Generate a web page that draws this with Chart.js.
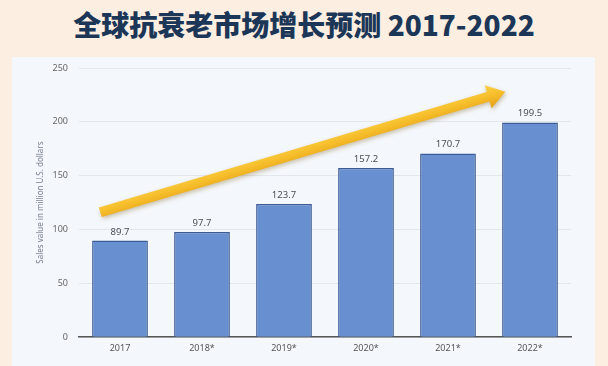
<!DOCTYPE html>
<html>
<head>
<meta charset="utf-8">
<script src="https://cdn.jsdelivr.net/npm/chart.js@4"></script>
<style>
  html, body { margin: 0; padding: 0; }
  body { width: 608px; height: 366px; background: #fcefe1; position: relative; overflow: hidden; font-family: "Noto Sans", sans-serif; }
  #title { position: absolute; left: 0; top: 4px; width: 608px; text-align: center; font: 900 28px "Noto Sans CJK SC", "Noto Sans", sans-serif; color: #1c3658; }
  #panel { position: absolute; left: 12px; top: 57px; width: 583px; height: 309px; background: #f4f7fb; }
  #chart { position: absolute; left: 0; top: 0; }
</style>
</head>
<body>
<div id="title">全球抗衰老市场增长预测 2017-2022</div>
<div id="panel"></div>
<canvas id="chart" width="608" height="366"></canvas>
<script>
const years = ["2017", "2018*", "2019*", "2020*", "2021*", "2022*"];
const sales = [89.7, 97.7, 123.7, 157.2, 170.7, 199.5];
const yTicks = [0, 50, 100, 150, 200, 250];
const axisTitle = "Sales value in million U.S. dollars";
// arrow ends as [category index, value]
const arrowFrom = [-0.24, 116];
const arrowTo = [4.7, 228];

const ctx = document.getElementById("chart").getContext("2d");

const valueLabels = {
  id: "valueLabels",
  afterDatasetsDraw(chart) {
    const c = chart.ctx;
    const meta = chart.getDatasetMeta(0);
    c.save();
    c.font = "9.5px 'Noto Sans', sans-serif";
    c.fillStyle = "#4a4f57";
    c.textAlign = "center";
    c.textBaseline = "bottom";
    meta.data.forEach((bar, i) => {
      c.fillText(sales[i].toFixed(1), bar.x, bar.y - 4);
    });
    c.restore();
  }
};

const growthArrow = {
  id: "growthArrow",
  afterDatasetsDraw(chart) {
    const c = chart.ctx;
    const xs = chart.scales.x, ys = chart.scales.y;
    const x1 = xs.getPixelForValue(arrowFrom[0]), y1 = ys.getPixelForValue(arrowFrom[1]);
    const x2 = xs.getPixelForValue(arrowTo[0]), y2 = ys.getPixelForValue(arrowTo[1]);
    const ang = Math.atan2(y2 - y1, x2 - x1);
    const len = Math.hypot(x2 - x1, y2 - y1);
    const shaft = 5, head = 12, headLen = 18;
    c.save();
    c.translate(x1, y1);
    c.rotate(ang);
    c.beginPath();
    c.moveTo(0, -shaft);
    c.lineTo(len - headLen, -shaft);
    c.lineTo(len - headLen, -head);
    c.lineTo(len, 0);
    c.lineTo(len - headLen, head);
    c.lineTo(len - headLen, shaft);
    c.lineTo(0, shaft);
    c.closePath();
    c.shadowColor = "rgba(120, 90, 20, 0.35)";
    c.shadowBlur = 4;
    c.shadowOffsetX = 1;
    c.shadowOffsetY = 2;
    const g = c.createLinearGradient(0, -head, 0, head);
    g.addColorStop(0, "#fbd24a");
    g.addColorStop(0.5, "#f6bd2a");
    g.addColorStop(1, "#e39f18");
    c.fillStyle = g;
    c.fill();
    c.restore();
  }
};

new Chart(ctx, {
  type: "bar",
  data: {
    labels: years,
    datasets: [{
      data: sales,
      backgroundColor: "#6890d0",
      borderColor: "#3b5c97",
      borderWidth: 1.5,
      barPercentage: 0.68,
      categoryPercentage: 1
    }]
  },
  options: {
    responsive: false,
    animation: false,
    devicePixelRatio: 1,
    layout: { padding: { left: 30, right: 37, top: 68, bottom: 6 } },
    plugins: { legend: { display: false }, tooltip: { enabled: false } },
    scales: {
      x: {
        grid: { display: false, drawTicks: false },
        border: { color: "#555", width: 1.5 },
        ticks: { color: "#555", font: { size: 9, family: "'Noto Sans', sans-serif" }, padding: 6 }
      },
      y: {
        min: 0, max: 250,
        afterBuildTicks(scale) { scale.ticks = yTicks.map(v => ({ value: v })); },
        afterFit(scale) { scale.width = 49; },
        grid: { color: "#e3e6ec", drawTicks: false },
        border: { display: false },
        ticks: { color: "#666", font: { size: 9, family: "'Noto Sans', sans-serif" }, padding: 11 },
        title: { display: true, text: axisTitle, color: "#7a8190", font: { size: 8, family: "'Noto Sans', sans-serif" }, padding: { top: 6, bottom: 0 } }
      }
    }
  },
  plugins: [valueLabels, growthArrow]
});
</script>
</body>
</html>
